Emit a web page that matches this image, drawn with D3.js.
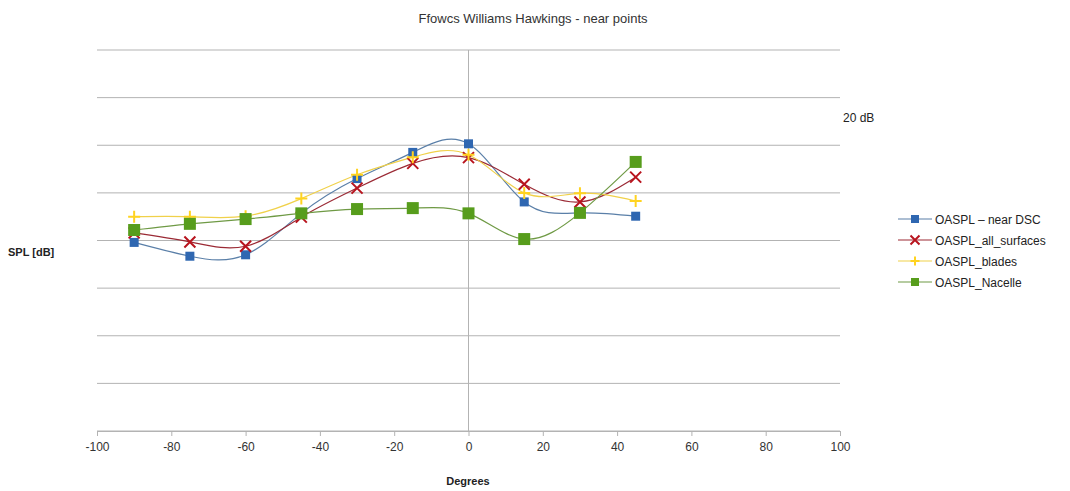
<!DOCTYPE html>
<html>
<head>
<meta charset="utf-8">
<script src="https://cdn.jsdelivr.net/npm/d3@7"></script>
<style>
  html, body { margin: 0; padding: 0; background: #fff; }
  svg { display: block; font-family: "Liberation Sans", Arial, sans-serif; }
</style>
</head>
<body>
<svg id="chart" width="1070" height="491"></svg>
<script>
// Observation angles (degrees)
const angles = [-90, -75, -60, -45, -30, -15, 0, 15, 30, 45];

// Overall sound pressure levels per source set (dB)
const nearDSC     = [79.6, 76.7, 77.0, 85.7, 93.0, 98.5, 100.3, 88.1, 85.8, 85.1];
const allSurfaces = [81.6, 79.7, 78.8, 84.9, 91.0, 96.2, 97.4, 91.8, 88.1, 93.3];
const blades      = [85.0, 85.0, 85.1, 88.8, 93.8, 97.5, 98.0, 90.0, 89.9, 88.3];
const nacelle     = [82.2, 83.5, 84.5, 85.7, 86.6, 86.8, 85.7, 80.3, 85.8, 96.5];

const xTicks = [-100, -80, -60, -40, -20, 0, 20, 40, 60, 80, 100];
const yGrid  = [40, 50, 60, 70, 80, 90, 100, 110, 120];

const seriesNames = ["OASPL \u2013 near DSC", "OASPL_all_surfaces", "OASPL_blades", "OASPL_Nacelle"];

const series = [
  { name: seriesNames[0], values: nearDSC,     line: "#5a7fa8", mark: "#2f67b1", shape: "square", size: 9 },
  { name: seriesNames[1], values: allSurfaces, line: "#9b2a35", mark: "#b8141e", shape: "cross",  size: 11 },
  { name: seriesNames[2], values: blades,      line: "#f0d14a", mark: "#ffd320", shape: "plus",   size: 12 },
  { name: seriesNames[3], values: nacelle,     line: "#6f9a45", mark: "#579d1c", shape: "square", size: 12 }
];

const svg = d3.select("#chart");
const x = d3.scaleLinear().domain([-100, 100]).range([97, 840]);
const y = d3.scaleLinear().domain([40, 120]).range([431, 50]);
const grey = "#b3b3b3";

// Horizontal grid
svg.append("g").selectAll("line").data(yGrid).join("line")
  .attr("x1", x(-100)).attr("x2", x(100))
  .attr("y1", d => y(d)).attr("y2", d => y(d))
  .attr("stroke", grey).attr("stroke-width", 1);

// Vertical axis through x = 0
svg.append("line")
  .attr("x1", x(0)).attr("x2", x(0))
  .attr("y1", y(120)).attr("y2", y(40))
  .attr("stroke", grey).attr("stroke-width", 1);

// Bottom axis
const xAxis = d3.axisBottom(x).tickValues(xTicks).tickSize(5).tickPadding(6).tickFormat(d3.format("d"));
const gx = svg.append("g").attr("transform", `translate(0,${y(40)})`).call(xAxis);
gx.select(".domain").attr("stroke", grey);
gx.selectAll(".tick line").attr("stroke", grey);
gx.selectAll(".tick text")
  .attr("fill", "#333").attr("font-size", 12)
  .text(d => d < 0 ? "-" + Math.abs(d) : d);

// Curves
const curve = d3.line()
  .x((d, i) => x(angles[i]))
  .y(d => y(d))
  .curve(d3.curveNatural);

series.forEach(s => {
  svg.append("path")
    .attr("d", curve(s.values))
    .attr("fill", "none")
    .attr("stroke", s.line)
    .attr("stroke-width", 1.2);
});

function drawMarker(g, s, cx, cy) {
  const h = s.size / 2;
  if (s.shape === "square") {
    g.append("rect").attr("x", cx - h).attr("y", cy - h)
      .attr("width", s.size).attr("height", s.size).attr("fill", s.mark);
  } else if (s.shape === "cross") {
    g.append("path")
      .attr("d", `M${cx - h},${cy - h}L${cx + h},${cy + h}M${cx - h},${cy + h}L${cx + h},${cy - h}`)
      .attr("stroke", s.mark).attr("stroke-width", 2).attr("fill", "none");
  } else {
    g.append("path")
      .attr("d", `M${cx - h},${cy}L${cx + h},${cy}M${cx},${cy - h}L${cx},${cy + h}`)
      .attr("stroke", s.mark).attr("stroke-width", 2).attr("fill", "none");
  }
}

// Markers
series.forEach(s => {
  const g = svg.append("g");
  s.values.forEach((v, i) => drawMarker(g, s, x(angles[i]), y(v)));
});

// Title and axis titles
svg.append("text").attr("x", 533).attr("y", 23).attr("text-anchor", "middle")
  .attr("font-size", 13).attr("fill", "#333").text("Ffowcs Williams Hawkings - near points");
svg.append("text").attr("x", 468).attr("y", 485).attr("text-anchor", "middle")
  .attr("font-size", 11).attr("font-weight", "bold").attr("fill", "#222").text("Degrees");
svg.append("text").attr("x", 8).attr("y", 256)
  .attr("font-size", 11).attr("font-weight", "bold").attr("fill", "#222").text("SPL [dB]");
svg.append("text").attr("x", 843).attr("y", 122)
  .attr("font-size", 12).attr("fill", "#222").text("20 dB");

// Legend
const legend = svg.append("g");
series.forEach((s, i) => {
  const ly = 219 + i * 21;
  legend.append("line").attr("x1", 898).attr("x2", 932).attr("y1", ly).attr("y2", ly)
    .attr("stroke", s.line).attr("stroke-width", 1.2);
  drawMarker(legend, Object.assign({}, s, { size: s.shape === "square" ? 8 : 9 }), 915, ly);
  legend.append("text").attr("x", 935).attr("y", ly + 4.5)
    .attr("font-size", 12).attr("fill", "#222").text(s.name);
});
</script>
</body>
</html>
